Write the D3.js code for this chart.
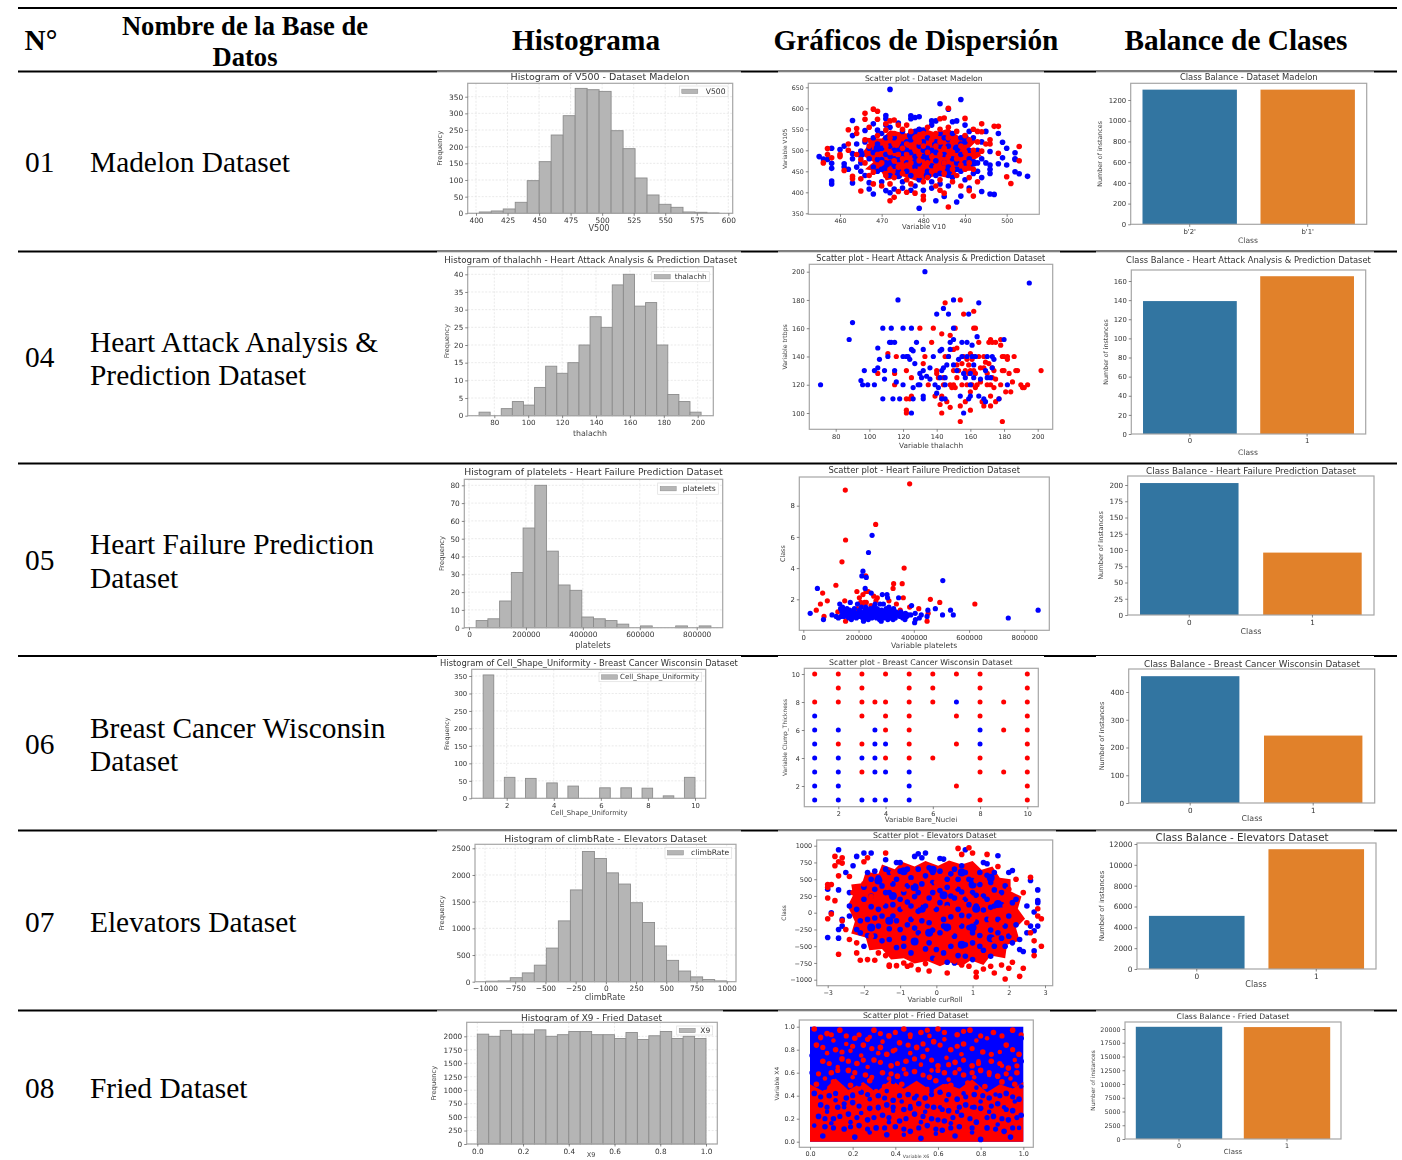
<!DOCTYPE html>
<html><head><meta charset="utf-8">
<script src="https://cdn.jsdelivr.net/npm/d3@7"></script>
<style>html,body{margin:0;background:#fff}svg{display:block}</style></head>
<body><div id="c"></div>
<script>
// ---------- table text ----------
const rowNumbers=["01","04","05","06","07","08"];
const rowNames=[["Madelon Dataset"],["Heart Attack Analysis &","Prediction Dataset"],["Heart Failure Prediction","Dataset"],["Breast Cancer Wisconsin","Dataset"],["Elevators Dataset"],["Fried Dataset"]];
// ---------- histogram values ----------
const histV500=[4,7,13,33,98,155,235,293,375,371,366,248,194,106,55,27,18,4,3,1];
const histThalachh=[1,0,2,4,3,8,14,12,15,20,28,25,37,40,31,32,20,6,4,1];
const histPlatelets=[4,5,15,31,56,80,43,24,21,6,5,4,2,0,1,0,0,1,0,1];
const histCellShape=[353,0,60,0,57,0,44,0,35,0,0,30,0,30,0,29,0,7,0,60];
const histClimbRate=[10,15,75,165,310,630,1140,1720,2440,2310,2040,1830,1480,1110,670,400,200,90,40,15];
const histX9=[2040,2000,2110,2040,2040,2120,2000,2030,2090,2090,2030,2030,1960,2070,1940,2010,2090,1960,2000,1960];
// ---------- class balance values ----------
const balMadelon=[1300,1300], balHeart=[139,165], balFailure=[203,96], balBreast=[457,243], balElevators=[5100,11500], balFried=[20400,20350];
// ---------- scatter values ----------
const madelonBlue=[[455,485],[456,479],[457,478],[458,469],[458,457],[458,427],[458,420],[458,505],[460,502],[461,468],[461,460],[461,510],[462,455],[463,571],[463,535],[463,492],[463,480],[463,422],[464,515],[464,460],[465,450],[465,498],[465,470],[466,547],[466,520],[466,440],[467,505],[467,480],[467,423],[467,408],[468,563],[468,530],[468,495],[468,460],[468,396],[469,548],[469,515],[469,450],[470,540],[470,505],[470,478],[470,425],[471,404],[471,583],[471,575],[471,560],[471,530],[471,490],[472,645],[472,555],[472,510],[472,470],[472,440],[472,399],[473,530],[473,480],[473,408],[474,565],[474,500],[474,450],[475,545],[475,425],[475,410],[476,520],[476,470],[477,582],[477,575],[477,540],[477,495],[477,440],[477,405],[478,578],[478,460],[478,415],[479,580],[479,550],[479,510],[479,362],[479,430],[480,548],[480,485],[480,405],[481,530],[481,450],[482,570],[482,560],[482,500],[482,425],[482,410],[483,570],[483,520],[483,475],[483,380],[484,611],[484,540],[484,445],[484,420],[485,390],[485,530],[485,490],[486,598],[486,510],[486,460],[486,415],[487,568],[487,540],[487,435],[488,570],[488,500],[488,470],[488,377],[489,621],[489,530],[489,450],[489,391],[490,560],[490,520],[490,430],[491,545],[491,480],[491,410],[492,530],[492,470],[493,500],[493,450],[494,520],[494,480],[494,435],[494,402],[495,545],[495,470],[496,497],[496,465],[496,455],[496,445],[496,396],[497,395],[498,540],[498,468],[499,519],[499,482],[500,505],[500,465],[502,494],[502,480],[502,478],[502,449],[503,444],[505,438],[469,478],[470,455],[471,470],[472,485],[473,462],[473,500],[474,478],[475,490],[475,515],[476,450],[476,500],[477,525],[478,485],[478,545],[479,468],[480,500],[480,520],[481,478],[481,505],[482,463],[483,495],[483,440],[484,510],[485,470],[486,525],[486,440],[487,480],[488,455],[489,490],[489,515],[490,470],[491,500],[492,445],[493,470]];
const madelonRed=[[456,470],[457,504],[457,490],[458,482],[460,490],[460,485],[461,452],[462,549],[462,515],[462,500],[463,438],[463,432],[464,540],[464,552],[464,490],[465,478],[465,432],[465,403],[466,588],[466,574],[466,525],[466,470],[467,555],[467,510],[467,440],[468,598],[468,448],[468,420],[469,593],[469,574],[469,535],[469,490],[470,470],[470,415],[471,563],[471,548],[471,510],[471,440],[472,380],[472,570],[472,530],[472,495],[472,455],[472,420],[473,572],[473,388],[473,540],[473,515],[473,475],[473,435],[474,560],[474,520],[474,490],[474,460],[474,402],[475,550],[475,530],[475,505],[475,480],[475,445],[476,560],[476,515],[476,490],[476,465],[476,430],[476,400],[477,545],[477,510],[477,470],[477,420],[478,530],[478,500],[478,450],[478,398],[479,520],[479,490],[479,475],[479,440],[480,540],[480,510],[480,460],[480,425],[480,391],[480,382],[481,555],[481,495],[481,470],[481,435],[482,525],[482,485],[482,450],[483,540],[483,510],[483,460],[483,415],[484,575],[484,550],[484,520],[484,490],[484,430],[484,405],[485,577],[485,505],[485,470],[485,445],[485,398],[486,555],[486,530],[486,485],[486,600],[486,365],[487,520],[487,495],[487,455],[487,425],[488,545],[488,480],[488,440],[489,510],[489,465],[489,415],[490,576],[490,535],[490,495],[490,455],[491,525],[491,470],[491,404],[491,435],[492,550],[492,500],[492,455],[492,391],[493,545],[493,520],[493,490],[493,425],[494,563],[494,544],[494,498],[495,515],[496,525],[496,515],[497,557],[498,557],[498,493],[500,437],[501,421],[503,509],[503,475]];
const madelonCore=[[465,490],[467,515],[466,530],[470,528],[472,548],[476,540],[479,556],[483,542],[486,552],[489,530],[493,524],[491,505],[494,488],[491,470],[493,452],[488,450],[487,432],[483,440],[479,425],[475,438],[471,428],[470,448],[466,455],[468,472]];
const madelonBluePatch=[[469,505],[471,460],[475,505],[477,535],[478,470],[481,490],[483,515],[486,450],[488,505],[474,440],[481,440],[465,490],[492,470],[490,530]];
const heartRed=[[105,128],[111,142],[115,128],[115,120],[116,140],[122,130],[122,110],[122,102],[122,100],[124,110],[125,112],[125,125],[130,160],[132,135],[133,140],[135,120],[137,150],[138,160],[139,112],[140,130],[140,128],[141,125],[142,106],[143,112],[143,110],[143,156],[143,100],[144,120],[144,125],[145,178],[145,140],[146,108],[147,140],[148,104],[148,120],[148,155],[149,118],[150,145],[150,130],[150,120],[151,118],[151,160],[152,146],[152,134],[152,125],[153,130],[154,94],[154,105],[154,180],[155,120],[155,135],[156,170],[156,140],[157,108],[157,130],[158,120],[158,138],[159,134],[159,128],[160,142],[160,115],[160,102],[160,130],[161,120],[161,138],[162,172],[162,160],[162,140],[162,130],[163,160],[163,118],[163,128],[164,120],[165,150],[165,140],[166,122],[166,132],[167,108],[168,105],[168,132],[168,140],[169,136],[170,120],[170,128],[171,150],[171,135],[172,152],[172,112],[172,105],[172,120],[173,150],[173,125],[173,132],[174,118],[174,130],[175,124],[175,108],[175,150],[177,110],[178,152],[178,148],[178,120],[179,94],[179,140],[179,130],[180,140],[180,130],[181,115],[182,140],[182,138],[183,128],[184,115],[185,122],[186,140],[187,130],[188,130],[190,120],[191,118],[192,118],[194,120],[202,130]];
const heartBlue=[[71,120],[88,152],[90,164],[95,123],[96,120],[97,130],[99,120],[103,120],[103,130],[105,132],[105,146],[106,138],[108,110],[108,160],[109,124],[109,130],[111,140],[112,150],[113,160],[113,150],[114,110],[115,150],[115,130],[116,122],[117,180],[118,110],[120,120],[120,140],[120,160],[122,140],[123,140],[124,138],[125,160],[125,145],[125,100],[126,144],[126,118],[126,110],[127,135],[128,150],[129,120],[130,120],[130,128],[131,125],[132,130],[132,145],[132,112],[132,110],[134,126],[136,124],[136,132],[138,140],[139,120],[140,170],[140,114],[141,118],[142,125],[142,144],[143,110],[143,130],[143,145],[144,174],[144,132],[145,125],[145,120],[145,110],[146,134],[147,140],[147,170],[148,145],[148,150],[150,180],[150,160],[150,152],[150,134],[152,130],[153,138],[154,112],[155,150],[155,140],[156,128],[156,100],[157,125],[158,150],[158,140],[159,170],[159,110],[160,128],[160,120],[160,112],[161,148],[161,140],[162,134],[162,125],[163,140],[164,154],[165,178],[165,112],[166,124],[168,110],[169,108],[169,130],[170,140],[170,125],[172,125],[173,140],[173,132],[174,138],[177,110],[180,152],[182,120],[195,192],[133,200]];
const failureRed=[[47000,1.3],[62000,1.7],[70000,2.4],[75000,0.9],[87000,1.9],[118000,2.9],[125000,1.2],[140000,4.4],[150000,1.9],[152000,9],[153000,5.8],[153000,0.6],[160000,1.1],[175000,0.8],[194000,2.5],[196000,1.4],[200000,0.9],[203000,2.1],[208000,1.8],[212000,1.7],[216000,2.3],[222000,1.8],[226000,3.5],[227000,2.5],[228000,1.8],[235000,2.5],[245000,1.6],[255000,2.2],[262000,6.8],[263000,1.9],[268000,2.1],[275000,1],[288000,1.2],[310000,1.9],[325000,2.7],[327000,3],[337000,1.7],[351000,1.3],[358000,3],[362000,2.1],[365000,4],[385000,1.5],[385000,9.4],[418000,1.4],[448000,0.6],[452000,1.1],[460000,2],[494000,1.8],[621000,1.7]];
const failureBlue=[[25000,1.1],[51000,2.7],[73000,0.7],[104000,1],[119000,0.9],[127000,0.8],[132000,1.7],[135000,1.4],[140000,1.2],[143000,1],[147000,0.9],[150000,1.3],[155000,1.1],[160000,0.9],[163000,1.2],[165000,0.8],[170000,1.8],[172000,1.1],[176000,1],[180000,0.9],[183000,1.2],[188000,1],[192000,0.8],[196000,1.7],[198000,1.1],[203000,1.3],[205000,0.9],[210000,1.5],[212000,3.5],[213000,1],[216000,3.8],[218000,0.6],[220000,1.1],[223000,1.3],[224000,2.7],[227000,0.8],[228000,3.4],[230000,1.1],[233000,0.9],[236000,5],[237000,1.3],[240000,1],[243000,1.4],[246000,2.4],[248000,0.8],[249000,6.1],[250000,1.1],[253000,1.3],[255000,0.9],[258000,1],[260000,1.7],[262000,1.2],[265000,0.8],[267000,1.4],[270000,1],[272000,1.2],[275000,0.9],[278000,1.7],[280000,1.1],[282000,0.6],[284000,1.3],[286000,2.3],[288000,0.9],[290000,1.7],[293000,1.1],[296000,1],[300000,1.4],[303000,2.3],[305000,2.1],[306000,0.7],[308000,1.2],[310000,1.5],[314000,1],[318000,0.8],[322000,1.1],[325000,0.7],[327000,1.4],[330000,1],[335000,1.2],[342000,1],[345000,2.1],[350000,0.9],[356000,1.1],[362000,1],[368000,0.7],[374000,0.9],[380000,1],[389000,1],[392000,1.6],[403000,0.5],[405000,1.1],[406000,0.7],[420000,0.8],[427000,1],[448000,0.9],[451000,1.3],[478000,1.4],[504000,1],[505000,3.2],[533000,1.3],[543000,1],[742000,0.8],[850000,1.3],[136000,0.9],[142000,1.5],[152000,1],[158000,1.4],[168000,1.3],[174000,0.7],[185000,1.4],[190000,1.1],[200000,1],[208000,1.2],[215000,0.8],[222000,1],[226000,1.5],[232000,1.2],[235000,0.7],[238000,1],[242000,1.1],[245000,0.9],[252000,1],[256000,1.5],[259000,1.2],[263000,0.9],[268000,1.1],[274000,1.3],[276000,0.7],[281000,0.9],[285000,1],[289000,1.2],[292000,0.8],[298000,1.2],[302000,0.9],[312000,1.2],[316000,1.1],[320000,1.3],[333000,0.8],[338000,1],[346000,1.1],[353000,1.2],[360000,0.8],[370000,1.1]];
const breastRed=[[1,10],[2,10],[3,10],[4,10],[5,10],[6,10],[7,10],[8,10],[10,10],[2,9],[3,9],[5,9],[6,9],[8,9],[10,9],[1,8],[2,8],[3,8],[3.55,8],[4,8],[5,8],[6,8],[8,8],[9,8],[10,8],[3,7],[4,7],[5,7],[7,7],[8,7],[10,7],[4,6],[5,6],[9,6],[10,6],[2,5],[3,5],[5,5],[7,5],[10,5],[4,4],[5,4],[6,4],[8,4],[10,4],[3,3],[8,3],[9,3],[10,3],[7,2],[10,2],[8,1],[10,1]];
const breastBlue=[[7,8],[1,7],[1,6],[2,6],[3.55,6],[8,6],[1,5],[3.55,5],[4,5],[8,5],[1,4],[2,4],[3,4],[3.55,4],[1,3],[2,3],[3.55,3],[4,3],[5,3],[1,2],[2,2],[5,2],[1,1],[2,1],[3,1],[3.55,1],[4,1],[5,1]];
const elevBlue=[[-3,-370],[-3,350],[-2.9,0],[-2.7,940],[-2.7,-250],[-2.7,-380],[-2.7,340],[-2.6,-200],[-2.6,-100],[-2.5,600],[-2.4,100],[-2.4,300],[-2.4,-50],[-2.3,700],[-2.2,840],[-2.2,-250],[-2.1,-300],[-2,890],[-2,-500],[-2,200],[-1.9,600],[-1.9,-100],[-1.8,890],[-1.8,500],[-1.8,250],[-1.7,620],[-1.7,-350],[-1.6,50],[-1.6,-200],[-1.5,400],[-1.4,790],[-1.4,650],[-1.4,100],[-1.3,300],[-1.3,-400],[-1.2,-50],[-1.1,500],[-1.1,750],[-1,750],[-1,200],[-1,-250],[-.9,-500],[-.8,400],[-.8,650],[-.7,100],[-.7,-100],[-.6,840],[-.5,880],[-.5,300],[-.5,-300],[-.4,820],[-.3,890],[-.3,550],[-.3,100],[-.2,-150],[-.2,-450],[-.1,300],[-.1,600],[-.1,-680],[.1,810],[.1,150],[.1,-300],[.2,800],[.2,-100],[.3,500],[.3,-740],[.4,250],[.4,-500],[.5,-750],[.5,650],[.6,50],[.6,350],[.7,-200],[.7,700],[.8,940],[.8,200],[.8,-650],[.9,500],[.9,-50],[1,300],[1,-300],[1,-700],[1.1,100],[1.2,600],[1.2,-500],[1.3,750],[1.3,250],[1.4,-100],[1.4,730],[1.5,450],[1.5,-650],[1.6,100],[1.6,600],[1.7,850],[1.7,-300],[1.8,300],[1.9,-500],[2,600],[2.1,630],[2.2,200],[2.3,-400],[2.3,-550],[2.4,-580],[2.5,100],[2.5,-300],[2.6,480],[2.6,-200],[2.7,-570],[2.7,-270],[2.7,10],[2.8,340],[2.8,180],[2.8,-200],[2.8,150]];
const elevBlueInner=[[-2.2,50],[-2.1,-120],[-2,380],[-1.9,-340],[-1.8,90],[-1.7,350],[-1.7,-80],[-1.6,520],[-1.5,-420],[-1.5,-50],[-1.4,300],[-1.3,600],[-1.3,-240],[-1.2,120],[-1.2,430],[-1.1,-520],[-1.1,-120],[-1,620],[-1,50],[-.9,300],[-.9,-380],[-.8,-180],[-.8,160],[-.7,520],[-.7,-600],[-.6,240],[-.6,-230],[-.5,650],[-.5,20],[-.4,430],[-.4,-120],[-.3,-540],[-.2,220],[-.2,670],[-.1,-260],[-.1,450],[0,50],[0,-550],[.1,330],[.1,620],[.2,-200],[.2,-600],[.3,120],[.3,380],[.4,-60],[.4,580],[.5,-350],[.5,220],[.6,500],[.6,-640],[.7,-40],[.7,310],[.8,-480],[.8,600],[.9,120],[.9,-220],[1,480],[1,-450],[1.1,-140],[1.1,260],[1.2,-340],[1.2,420],[1.3,40],[1.3,-560],[1.4,200],[1.4,560],[1.5,-260],[1.5,80],[1.6,-500],[1.6,340],[1.7,-100],[1.8,-380],[1.8,120],[1.9,400],[1.9,-200],[2,-50],[2,-350],[2.1,150],[2.2,-180],[2.1,-450]];
const elevRed=[[-3,-90],[-3,420],[-3,380],[-3,220],[-2.9,420],[-2.9,-20],[-2.8,840],[-2.8,700],[-2.8,180],[-2.7,760],[-2.7,550],[-2.7,-620],[-2.6,820],[-2.6,740],[-2.6,-120],[-2.5,-250],[-2.4,-400],[-2.4,540],[-2.3,300],[-2.2,-600],[-2.2,-450],[-2.1,-710],[-2,760],[-2,430],[-1.9,820],[-1.9,-700],[-1.8,-350],[-1.7,-710],[-1.6,-600],[-1.4,890],[-1.4,-640],[-1.3,-800],[-1.3,-780],[-1.1,-790],[-1,-600],[-.9,-750],[-.8,-800],[-.7,-780],[-.5,-850],[-.3,-760],[-.2,-870],[0,-700],[.1,-740],[.3,-900],[.5,-720],[.7,-780],[.9,970],[.9,-800],[1,890],[1.1,-960],[1.1,-890],[1.3,-840],[1.4,870],[1.5,-800],[1.6,-900],[1.7,690],[1.8,-780],[1.9,-990],[2,-830],[2.1,-740],[2.3,-950],[2.4,-830],[2.2,500],[2.4,300],[2.5,-150],[2.6,530],[2.6,-300],[2.7,-640],[2.7,-420],[2.8,60],[2.8,-50],[2.9,-90],[2.9,-500],[.6,960],[.7,870],[-1.8,240],[-1.5,150],[-1.3,480],[-1.2,600],[-.9,80],[-.9,350],[-.7,450],[-.6,-50],[-.5,120],[-.4,-350],[-.3,300],[-.2,400],[-.1,100],[0,-200],[0,450],[.1,500],[.2,-500],[.3,70],[.4,-300],[.5,400],[.6,-150],[.7,150],[.8,-300],[.9,250],[1,-100],[1.1,480],[1.2,200],[1.3,-250],[1.4,380],[1.5,-100],[1.6,-400],[1.7,250],[1.8,-150],[1.9,100],[2,350],[2.1,-300]];
const elevCore=[[-2.45,100],[-2.3,260],[-2.35,420],[-2.05,440],[-1.95,610],[-1.6,580],[-1.5,720],[-1.15,650],[-.95,760],[-.6,690],[-.3,770],[.05,700],[.35,780],[.7,720],[1,770],[1.25,640],[1.55,690],[1.75,520],[2.05,500],[2.05,320],[2.35,240],[2.25,60],[2.45,-90],[2.2,-230],[2.3,-420],[1.95,-480],[1.9,-680],[1.5,-640],[1.3,-780],[.95,-710],[.7,-800],[.35,-740],[.1,-800],[-.25,-720],[-.6,-760],[-.9,-680],[-1.25,-700],[-1.5,-540],[-1.85,-560],[-1.95,-370],[-2.35,-310],[-2.25,-130]];
const elevBluePatch=[[-1.6,480],[-1.2,250],[-1.3,-120],[-.9,620],[-.6,380],[-.4,60],[-.6,-430],[-.1,640],[.2,260],[.3,-220],[.7,600],[1,420],[1.1,60],[1,-220],[1.5,520],[1.7,130],[1.5,-380],[.7,-480],[-1.8,-220],[-.2,-300]];
const friedRed=[[.02,.98],[.08,.94],[.14,.97],[.21,.9],[.3,.97],[.37,.92],[.44,.98],[.52,.95],[.6,.98],[.69,.93],[.75,.97],[.86,.95],[.95,.97],[.03,.84],[.12,.8],[.25,.84],[.33,.82],[.36,.76],[.42,.86],[.5,.82],[.58,.87],[.66,.8],[.72,.85],[.81,.78],[.92,.84],[.98,.76],[.06,.7],[.15,.72],[.22,.68],[.3,.71],[.38,.66],[.45,.7],[.53,.74],[.6,.66],[.68,.69],[.76,.66],[.85,.7],[.93,.64],[.1,.6],[.18,.62],[.26,.58],[.34,.6],[.41,.57],[.49,.61],[.56,.56],[.63,.6],[.72,.58],[.8,.62],[.88,.57],[.97,.6],[.03,.5],[.11,.52],[.19,.49],[.28,.53],[.35,.48],[.43,.5],[.5,.48],[.59,.53],[.66,.49],[.74,.51],[.82,.48],[.9,.52],[.96,.5]];
const friedRed2=[[.05,.91],[.1,.93],[.17,.92],[.23,.93],[.27,.89],[.33,.94],[.4,.95],[.47,.93],[.55,.97],[.63,.95],[.72,.96],[.8,.92],[.9,.92],[.99,.93],[.06,.82],[.15,.78],[.2,.83],[.29,.81],[.39,.79],[.46,.84],[.53,.85],[.61,.84],[.69,.83],[.76,.81],[.85,.76],[.95,.8],[.09,.68],[.18,.7],[.25,.71],[.33,.69],[.41,.68],[.49,.72],[.57,.71],[.65,.67],[.72,.71],[.79,.68],[.89,.68],[.97,.66],[.04,.59],[.13,.62],[.21,.6],[.29,.56],[.38,.59],[.45,.59],[.53,.58],[.6,.62],[.68,.6],[.76,.6],[.84,.6],[.92,.59]];
const friedBlue=[[.02,.42],[.09,.4],[.17,.38],[.24,.43],[.32,.4],[.39,.36],[.46,.41],[.54,.38],[.61,.43],[.69,.37],[.77,.41],[.84,.38],[.92,.42],[.98,.37],[.05,.32],[.13,.3],[.2,.34],[.28,.29],[.36,.32],[.44,.28],[.51,.33],[.58,.3],[.65,.27],[.73,.32],[.8,.29],[.88,.33],[.95,.27],[.04,.22],[.11,.2],[.18,.24],[.27,.19],[.34,.23],[.42,.18],[.49,.24],[.57,.2],[.63,.18],[.71,.23],[.78,.17],[.86,.22],[.93,.19],[.99,.23],[.07,.13],[.16,.11],[.23,.14],[.31,.12],[.4,.13],[.47,.09],[.55,.14],[.62,.1],[.7,.13],[.83,.12],[.91,.09],[.06,.05],[.21,.04],[.36,.06],[.52,.03],[.68,.05],[.8,.02],[.94,.04],[.01,.75],[.01,.6],[.99,.9],[.99,.7]];
const friedBlue2=[[.05,.39],[.12,.42],[.2,.4],[.27,.41],[.35,.38],[.42,.4],[.49,.38],[.57,.41],[.65,.41],[.73,.39],[.81,.4],[.89,.4],[.95,.39],[.08,.3],[.16,.33],[.23,.31],[.32,.3],[.39,.3],[.47,.29],[.55,.31],[.62,.28],[.7,.3],[.77,.3],[.85,.31],[.92,.28],[.07,.2],[.14,.22],[.22,.21],[.3,.21],[.37,.21],[.45,.2],[.53,.22],[.6,.19],[.67,.21],[.75,.2],[.83,.21],[.9,.2],[.97,.21],[.11,.12],[.19,.13],[.27,.11],[.35,.12],[.44,.11],[.51,.12],[.59,.11],[.66,.12],[.76,.12],[.87,.11],[.95,.12]];
const friedRedFine=[[.05,.9],[.11,.88],[.17,.85],[.19,.79],[.24,.75],[.28,.91],[.34,.87],[.4,.8],[.47,.91],[.47,.77],[.55,.8],[.56,.92],[.63,.89],[.64,.73],[.71,.76],[.78,.88],[.79,.7],[.83,.9],[.89,.78],[.9,.66],[.96,.71],[.08,.77],[.13,.65],[.2,.56],[.27,.65],[.32,.77],[.37,.55],[.44,.63],[.52,.67],[.57,.62],[.65,.54],[.7,.63],[.77,.56],[.84,.58],[.94,.55],[.07,.55],[.15,.47],[.23,.46],[.31,.44],[.39,.45],[.47,.45],[.55,.46],[.63,.45],[.71,.44],[.79,.46],[.87,.45],[.94,.45]];
const friedBlueFine=[[.07,.47],[.15,.54],[.23,.5],[.31,.55],[.39,.52],[.47,.53],[.55,.5],[.63,.52],[.7,.54],[.78,.47],[.86,.54],[.99,.48],[.12,.36],[.2,.41],[.28,.37],[.36,.44],[.43,.35],[.5,.4],[.57,.44],[.64,.36],[.72,.42],[.8,.35],[.87,.41],[.96,.35],[.08,.26],[.16,.3],[.24,.25],[.32,.29],[.39,.27],[.47,.31],[.54,.26],[.61,.3],[.69,.26],[.76,.3],[.84,.26],[.91,.3],[.02,.14],[.1,.16],[.19,.17],[.28,.08],[.37,.17],[.44,.06],[.52,.17],[.59,.07],[.66,.16],[.76,.08],[.88,.15],[.98,.12]];
const friedBandsTop=[[0,0],[0,1],[1,1],[1,0]];
const friedBandsLow=[[0,0],[0,.5],[.06,.44],[.12,.55],[.18,.45],[.25,.52],[.31,.43],[.38,.54],[.44,.46],[.5,.53],[.57,.44],[.63,.51],[.7,.46],[.76,.54],[.83,.43],[.89,.5],[.95,.46],[1,.52],[1,0]];
// ---------- axis ticks ----------
const t25=[400,425,450,475,500,525,550,575,600], tThal=[80,100,120,140,160,180,200], tPlat=[0,200000,400000,600000,800000], tEven=[2,4,6,8,10], tClimb=[-1000,-750,-500,-250,0,250,500,750,1000], tUnit=[0,.2,.4,.6,.8,1];
const y350=[0,50,100,150,200,250,300,350], y40=[0,5,10,15,20,25,30,35,40], y80=[0,10,20,30,40,50,60,70,80], y2500=[0,500,1000,1500,2000,2500], y2000=[0,250,500,750,1000,1250,1500,1750,2000];

const BLUE="#0000ff",RED="#ff0000",C1="#3274a1",C2="#e1812c";
const svg=d3.select("#c").append("svg").attr("width",1402).attr("height",1160).style("font-family","'Liberation Serif'");
svg.append("defs").append("filter").attr("id","soft").attr("x","-5%").attr("y","-5%").attr("width","110%").attr("height","110%")
  .append("feGaussianBlur").attr("stdDeviation",0.55);
// rules
const ruleYs=[8,71.5,251.5,463.5,656,830.5,1010.5];
svg.selectAll("line.r").data(ruleYs).join("line").attr("class","r").attr("x1",18).attr("x2",1397).attr("y1",d=>d).attr("y2",d=>d).attr("stroke","#000").attr("stroke-width",2);
// picture masks make the rule thin above each figure
const masks=[[437,71.5,304],[778,71.5,266],[1096,71.5,278],[437,251.5,304],[778,251.5,282],[1096,251.5,278],[437,656,304],[778,656,266],[1096,656,278],[437,830.5,304],[778,830.5,278],[1096,830.5,278],[437,1010.5,286],[778,1010.5,272],[1096,1010.5,278]];
svg.selectAll("rect.m").data(masks).join("rect").attr("class","m").attr("x",d=>d[0]).attr("y",d=>d[1]).attr("width",d=>d[2]).attr("height",1.2).attr("fill","#fff");
// header
const hd=(t,x,y,s)=>svg.append("text").attr("x",x).attr("y",y).attr("text-anchor","middle").attr("font-weight","bold").attr("font-size",s).attr("fill","#000").text(t);
hd("N°",41,50,29.3);hd("Nombre de la Base de",245,34.5,26.6);hd("Datos",245,66,26.6);hd("Histograma",586,50,29.3);hd("Gráficos de Dispersión",916,50,29.3);hd("Balance de Clases",1236,50,29.3);
// rows
const rowY=[172,367,570,754,932,1098], nameY=[[172],[352,385],[554,588],[738,771],[932],[1098]];
rowNumbers.forEach((n,i)=>{svg.append("text").attr("x",25).attr("y",rowY[i]).attr("font-size",29.4).text(n);
  rowNames[i].forEach((t,j)=>svg.append("text").attr("x",90).attr("y",nameY[i][j]).attr("font-size",29.4).text(t));});

function fit(sel,w){sel.attr("font-size",10);const l=sel.node().getComputedTextLength();let s=10*w/l;
  if(s>9.6){s=9.6;sel.attr("textLength",w).attr("lengthAdjust","spacingAndGlyphs");}
  sel.attr("font-size",s);return s;}
function base(L,xc,yc,title,yl,xl){
  const g=svg.append("g").attr("filter","url(#soft)").style("font-family","'DejaVu Sans'");
  const x=d3.scaleLinear().domain([xc[0],xc[2]]).range([xc[1],xc[3]]);
  const y=d3.scaleLinear().domain([yc[0],yc[2]]).range([yc[1],yc[3]]);
  const t=g.append("text").attr("x",title[1]).attr("y",title[2]).attr("dy","0.35em").attr("text-anchor","middle").attr("fill","#333").text(title[0]);
  const fs=fit(t,title[3]);const tf=Math.min(fs*.82,7.4);
  return{g,x,y,tf,L,lab(){
    g.append("rect").attr("x",L.l).attr("y",L.t).attr("width",L.r-L.l).attr("height",L.b-L.t).attr("fill","none").attr("stroke","#a6a6a6").attr("stroke-width",1.2);
    g.append("text").attr("transform",`translate(${yl[1]},${(L.t+L.b)/2+(yl[2]||0)}) rotate(-90)`).attr("text-anchor","middle").attr("dy","0.35em").attr("font-size",tf*.92).attr("fill","#444").text(yl[0]);
    g.append("text").attr("x",xl[2]||(L.l+L.r)/2).attr("y",xl[1]).attr("dy","0.35em").attr("text-anchor","middle").attr("font-size",tf*(xl[3]||1.1)).attr("fill","#444").text(xl[0]);
  }};
}
const fmt=d=>d3.format("d")(d).replace("-","−");const fmt1=d=>d.toFixed(1);
function axes(c,xt,yt,xf,yf){
  const ax=c.g.append("g").attr("transform",`translate(0,${c.L.b})`).call(d3.axisBottom(c.x).tickValues(xt).tickSize(2.5).tickPadding(2).tickFormat(xf||fmt));
  const ay=c.g.append("g").attr("transform",`translate(${c.L.l},0)`).call(d3.axisLeft(c.y).tickValues(yt).tickSize(2.5).tickPadding(2).tickFormat(yf||fmt));
  [ax,ay].forEach(a=>{a.select(".domain").remove();a.selectAll("line").attr("stroke","#555").attr("stroke-width",.7);a.selectAll("text").attr("font-size",c.tf).attr("font-family","'DejaVu Sans'").attr("fill","#333");});
}
function hist(L,xc,yc,title,yl,xl,xt,yt,vals,x0,w,leg,name,xf){
  const c=base(L,xc,yc,title,yl,xl);
  const gr=c.g.append("g").attr("stroke","#dcdcdc").attr("stroke-width",.6).attr("stroke-dasharray","2 1.5");
  gr.selectAll("line.v").data(xt).join("line").attr("x1",d=>c.x(d)).attr("x2",d=>c.x(d)).attr("y1",L.t).attr("y2",L.b);
  gr.selectAll("line.h").data(yt).join("line").attr("x1",L.l).attr("x2",L.r).attr("y1",d=>c.y(d)).attr("y2",d=>c.y(d));
  c.g.selectAll("rect.b").data(vals).join("rect").attr("x",(d,i)=>c.x(x0+i*w)).attr("width",c.x(x0+w)-c.x(x0)).attr("y",d=>c.y(d)).attr("height",d=>c.y(0)-c.y(d)).attr("fill","#b5b5b5").attr("stroke","#8c8c8c").attr("stroke-width",d=>d?.9:0);
  c.lab();axes(c,xt,yt,xf);
  c.g.append("rect").attr("x",leg[0]).attr("y",leg[1]).attr("width",leg[2]).attr("height",leg[3]).attr("fill","#fff").attr("stroke","#ddd").attr("stroke-width",.7);
  c.g.append("rect").attr("x",leg[0]+2.5).attr("y",leg[1]+leg[3]/2-2.2).attr("width",16).attr("height",4.4).attr("fill","#b5b5b5").attr("stroke","#8c8c8c").attr("stroke-width",.5);
  c.g.append("text").attr("x",leg[0]+leg[2]-2.5).attr("y",leg[1]+leg[3]/2).attr("dy","0.35em").attr("text-anchor","end").attr("font-size",c.tf*1.03).attr("fill","#333").text(name);
}
function scatter(L,xc,yc,title,yl,xl,xt,yt,layers,r,xf,yf){
  const c=base(L,xc,yc,title,yl,xl);
  const ln=d3.line().x(d=>c.x(d[0])).y(d=>c.y(d[1]));
  layers.forEach(l=>{
    if(l.poly)c.g.append("path").attr("d",ln(l.poly)+"Z").attr("fill",l.color);
    else c.g.append("g").selectAll("circle").data(l.pts).join("circle").attr("cx",d=>c.x(d[0])).attr("cy",d=>c.y(d[1])).attr("r",l.r||r).attr("fill",l.color);
  });
  c.lab();axes(c,xt,yt,xf,yf);
}
function bars(L,yc,title,yl,xl,cats,yt,vals){
  const c=base(L,[0,L.l,1,L.r],yc,title,yl,xl);
  const b=d3.scaleBand().domain(cats).range([L.l,L.r]).paddingInner(.2).paddingOuter(.1);
  c.g.selectAll("rect.b").data(vals).join("rect").attr("x",(d,i)=>b(cats[i])).attr("width",b.bandwidth()).attr("y",d=>c.y(d)).attr("height",d=>c.y(0)-c.y(d)).attr("fill",(d,i)=>i?C2:C1);
  c.lab();
  const ax=c.g.append("g").attr("transform",`translate(0,${L.b})`).call(d3.axisBottom(b).tickSize(2.5).tickPadding(2));
  const ay=c.g.append("g").attr("transform",`translate(${L.l},0)`).call(d3.axisLeft(c.y).tickValues(yt).tickSize(2.5).tickPadding(2).tickFormat(fmt));
  [ax,ay].forEach(a=>{a.select(".domain").remove();a.selectAll("line").attr("stroke","#555").attr("stroke-width",.7);a.selectAll("text").attr("font-size",c.tf).attr("font-family","'DejaVu Sans'").attr("fill","#333");});
}
const F="Frequency";
hist({l:467.7,r:732.7,t:83.3,b:213.3},[400,476,600,728.3],[0,213.3,350,96.7],["Histogram of V500 - Dataset Madelon",600,77,179],[F,440],["V500",228,599],t25,y350,histV500,402.6,9.5,[679.3,86,48.7,10.7],"V500");
hist({l:467.7,r:713.3,t:266.7,b:415.7},[80,494.3,200,697.7],[0,415.7,40,274.3],["Histogram of thalachh - Heart Attack Analysis & Prediction Dataset",590.7,260,293],[F,447],["thalachh",433,590],tThal,y40,histThalachh,71,6.55,[651.7,271.7,57.6,10],"thalachh");
hist({l:464.3,r:722.7,t:479.3,b:627.7},[0,469,800000,696.7],[0,627.7,80,485.3],["Histogram of platelets - Heart Failure Prediction Dataset",593.5,471.5,259],[F,442],["platelets",645,593],tPlat,y80,histPlatelets,25100,41245,[657.7,483,60.6,11.3],"platelets");
hist({l:471.7,r:705.7,t:669.3,b:798.3},[2,506.7,10,695],[0,798.3,350,676],["Histogram of Cell_Shape_Uniformity - Breast Cancer Wisconsin Dataset",589,663,298],[F,447],["Cell_Shape_Uniformity",813,589,1],tEven,y350,histCellShape,1,.45,[599,672.3,102.7,9.4],"Cell_Shape_Uniformity");
hist({l:475,r:736,t:844.3,b:981.7},[-1000,485,1000,726.7],[0,981.7,2500,848.3],["Histogram of climbRate - Elevators Dataset",605.5,838.5,203],[F,442],["climbRate",997,605],tClimb,y2500,histClimbRate,-990,99.5,[665,847.3,66.7,11],"climbRate");
hist({l:466.7,r:717.3,t:1022.3,b:1144},[0,477.3,1,706],[0,1144,2000,1036.3],["Histogram of X9 - Fried Dataset",591.5,1017.5,141],[F,434],["X9",1155,591,.9],tUnit,y2000,histX9,0,.05,[676.7,1026,36,9],"X9",fmt1);

scatter({l:808.3,r:1039.3,t:83.3,b:214.3},[460,840,500,1006.7],[350,213.3,650,87.3],["Scatter plot - Dataset Madelon",923.8,78,118],["Variable V105",785],["Variable V10",227,924],[460,470,480,490,500],[350,400,450,500,550,600,650],[{poly:madelonCore,color:RED},{pts:madelonBluePatch,color:BLUE,r:3.8},{pts:madelonBlue,color:BLUE},{pts:madelonRed,color:RED}],2.8);
scatter({l:809.3,r:1052.7,t:264.3,b:429.3},[80,835.7,200,1037.7],[200,271.7,100,413],["Scatter plot - Heart Attack Analysis & Prediction Dataset",930.8,258,230],["Variable trtbps",785],["Variable thalachh",445,931],tThal,[100,120,140,160,180,200],[{pts:heartRed,color:RED},{pts:heartBlue,color:BLUE}],2.6);
scatter({l:799.3,r:1049.3,t:477,b:630.3},[0,803.3,800000,1024.3],[2,599.3,8,505.7],["Scatter plot - Heart Failure Prediction Dataset",924.2,470.5,192],["Class",783],["Variable platelets",645,924],tPlat,[2,4,6,8],[{pts:failureRed,color:RED},{pts:failureBlue,color:BLUE}],2.6);
scatter({l:804.3,r:1038.3,t:668.3,b:806.7},[2,838.3,10,1027.3],[10,674,2,786],["Scatter plot - Breast Cancer Wisconsin Dataset",920.8,662.5,184],["Variable Clump_Thickness",785],["Variable Bare_Nuclei",820,921],tEven,tEven,[{pts:breastBlue,color:BLUE},{pts:breastRed,color:RED}],2.5);
scatter({l:816.7,r:1052.7,t:840,b:985.7},[-3,827.7,3,1045],[1000,845.7,-1000,979.7],["Scatter plot - Elevators Dataset",934.8,835,124],["Class",784],["Variable curRoll",1000,935],[-3,-2,-1,0,1,2,3],tClimb,[{poly:elevCore,color:RED},{pts:elevBluePatch,color:BLUE,r:4},{pts:elevBlueInner,color:BLUE},{pts:elevBlue,color:BLUE},{pts:elevRed,color:RED}],2.8);
scatter({l:799.3,r:1033.3,t:1020,b:1147.3},[0,810,1,1023.3],[1,1026.7,0,1141.7],["Scatter plot - Fried Dataset",915.8,1015.5,106],["Variable X4",777],["Variable X6",1156.5,916,.72],tUnit,tUnit,[{poly:friedBandsTop,color:BLUE},{poly:friedBandsLow,color:RED},{pts:friedRed,color:RED,r:2.8},{pts:friedRed2,color:RED,r:2.6},{pts:friedBlue,color:BLUE,r:2.8},{pts:friedBlue2,color:BLUE,r:2.6},{pts:friedRedFine,color:RED,r:2.3},{pts:friedBlueFine,color:BLUE,r:2.3}],2.4,fmt1,fmt1);

const NI="Number of instances";
bars({l:1130.7,r:1366.7,t:83.3,b:224.3},[0,224.3,1200,100],["Class Balance - Dataset Madelon",1248.8,77,138],[NI,1100],["Class",240,1248],["b'2'","b'1'"],[0,200,400,600,800,1000,1200],balMadelon);
bars({l:1131.3,r:1365.7,t:270,b:434},[0,434,160,281],["Class Balance - Heart Attack Analysis & Prediction Dataset",1248.5,260,245],[NI,1106],["Class",452,1248],["0","1"],[0,20,40,60,80,100,120,140,160],balHeart);
bars({l:1127.7,r:1374,t:476,b:615},[0,615,200,485],["Class Balance - Heart Failure Prediction Dataset",1251,471,210],[NI,1101],["Class",631,1251],["0","1"],[0,25,50,75,100,125,150,175,200],balFailure);
bars({l:1128.7,r:1374.7,t:669,b:803},[0,803,400,692],["Class Balance - Breast Cancer Wisconsin Dataset",1252,664,216],[NI,1102],["Class",818,1252],["0","1"],[0,100,200,300,400],balBreast);
bars({l:1137,r:1376,t:843,b:969},[0,969,12000,844],["Class Balance - Elevators Dataset",1242,838,173],[NI,1102],["Class",984,1256],["0","1"],[0,2000,4000,6000,8000,10000,12000],balElevators);
bars({l:1125,r:1341,t:1022,b:1139},[0,1139,20000,1029],["Class Balance - Fried Dataset",1233,1016,113],[NI,1093],["Class",1152,1233],["0","1"],[0,2500,5000,7500,10000,12500,15000,17500,20000],balFried);
</script></body></html>
